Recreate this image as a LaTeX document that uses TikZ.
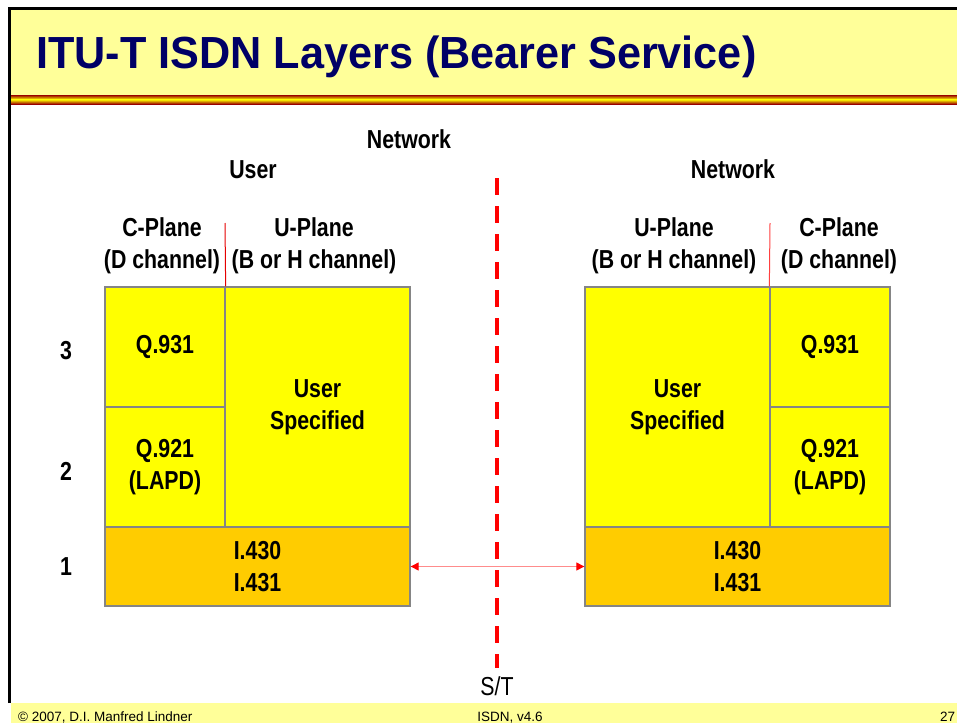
\documentclass[tikz,border=0pt]{standalone}
\usepackage{fontspec}
\usepackage{tikz}
\usetikzlibrary{arrows.meta}
\setmainfont{Liberation Sans}
\newfontfamily\narrowfont{Liberation Sans}[FakeStretch=0.82]
\newfontfamily\titlefont{Liberation Sans}[FakeStretch=0.96]
\definecolor{titleyellow}{HTML}{FFFF99}
\definecolor{titlenavy}{HTML}{000066}
\definecolor{layeryellow}{HTML}{FFFF00}
\definecolor{layerorange}{HTML}{FFCC00}
\definecolor{cellgray}{HTML}{858585}
\newcommand{\lblfont}{\narrowfont\bfseries\fontsize{26}{32}\selectfont}

\begin{document}
\begin{tikzpicture}[x=1pt, y=-1pt,
    cell/.style={draw=cellgray, line width=1.3pt, inner sep=0pt, align=center, font=\lblfont},
    lbl/.style={font=\lblfont, align=center, inner sep=0pt},
    planeline/.style={red!90!black, line width=1pt}]
    \useasboundingbox (0,0) rectangle (957,723);

    % slide frame, title band and footer
    \fill[titleyellow] (10,9) rectangle (957,95);
    \shade[top color=red!60!black, bottom color=yellow] (10,95) rectangle (957,99.5);
    \shade[top color=yellow, bottom color=red!60!black] (10,99.5) rectangle (957,104);
    \fill[titleyellow] (11,703) rectangle (957,723);
    \draw[line width=3pt] (9.5,703) -- (9.5,8) -- (957,8);
    \node[anchor=base west, inner sep=0pt, text=titlenavy, font=\titlefont\bfseries\fontsize{45}{50}\selectfont] (title) at (36,68) {ITU-T ISDN Layers (Bearer Service)};
    \node[anchor=base west, inner sep=0pt, font=\fontsize{13.5}{15}\selectfont] (copy) at (18,721) {\textcopyright{} 2007, D.I. Manfred Lindner};
    \node[anchor=base, inner sep=0pt, font=\fontsize{13.5}{15}\selectfont] (version) at (510,721) {ISDN, v4.6};
    \node[anchor=base west, inner sep=0pt, font=\fontsize{13.5}{15}\selectfont] (page) at (940,721) {27};

    % user side
    \node[cell, fill=layeryellow, minimum width=120, minimum height=120] (lq931) at (165,347) {Q.931};
    \node[cell, fill=layeryellow, minimum width=120, minimum height=120] (lq921) at (165,467) {Q.921\\(LAPD)};
    \node[cell, fill=layeryellow, minimum width=185, minimum height=240] (luser) at (317.5,407) {User\\Specified};
    \node[cell, fill=layerorange, minimum width=305, minimum height=79] (lphy) at (257.5,566.5) {I.430\\I.431};

    % network side
    \node[cell, fill=layeryellow, minimum width=185, minimum height=240] (ruser) at (677.5,407) {User\\Specified};
    \node[cell, fill=layeryellow, minimum width=120, minimum height=120] (rq931) at (830,347) {Q.931};
    \node[cell, fill=layeryellow, minimum width=120, minimum height=120] (rq921) at (830,467) {Q.921\\(LAPD)};
    \node[cell, fill=layerorange, minimum width=305, minimum height=79] (rphy) at (737.5,566.5) {I.430\\I.431};

    % headings
    \node[lbl, anchor=base] (nettop) at (409,148) {Network};
    \node[lbl, anchor=base] (usrhead) at (253,178) {User};
    \node[lbl, anchor=base] (nethead) at (733,178) {Network};
    \node[lbl] (lcplane) at (162,246) {C-Plane\\(D channel)};
    \node[lbl] (luplane) at (314,246) {U-Plane\\(B or H channel)};
    \node[lbl] (ruplane) at (674,246) {U-Plane\\(B or H channel)};
    \node[lbl] (rcplane) at (839,246) {C-Plane\\(D channel)};
    \node[lbl, anchor=base] (lay3) at (66,359) {3};
    \node[lbl, anchor=base] (lay2) at (66,480) {2};
    \node[lbl, anchor=base] (lay1) at (66,575) {1};

    % plane separators
    \coordinate (lsplit) at (225,223);
    \coordinate (rsplit) at (770,223);
    \draw[planeline] (lsplit) -- (lq931.north east);
    \draw[planeline, red!75] (rsplit) -- (rq931.north west);

    % S/T reference point
    \node[font=\narrowfont\fontsize{26}{30}\selectfont, inner sep=0pt] (st) at (497,686) {S/T};
    \coordinate (dtop) at (497,178);
    \coordinate (dbot) at (497,668);
    \draw[red, line width=4pt, dash pattern=on 17pt off 11pt] (dtop) -- (dbot);
    \draw[draw=red!45, line width=1pt, {Triangle[length=8pt,width=8pt,color=red,fill=red]}-{Triangle[length=8pt,width=8pt,color=red,fill=red]}] (lphy.east) -- (rphy.west);
\end{tikzpicture}
\end{document}
